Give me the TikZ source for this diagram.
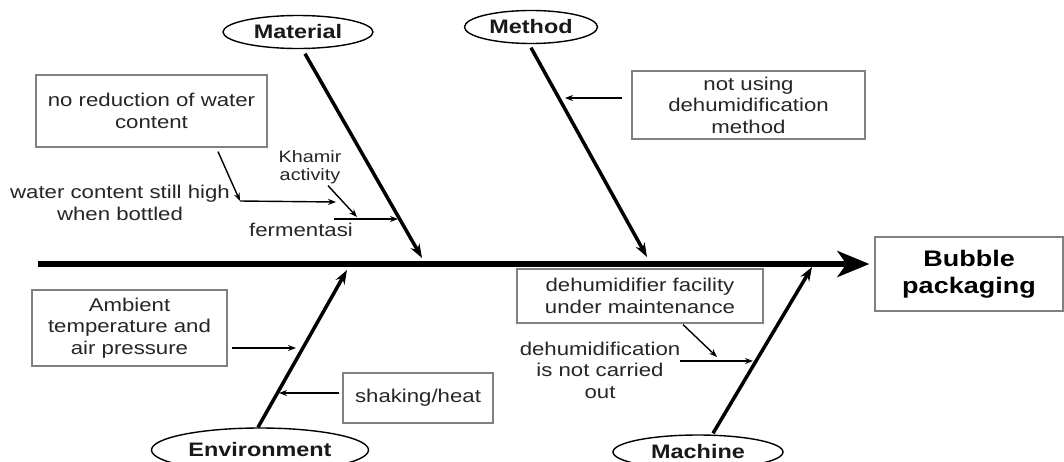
\documentclass[tikz,border=0pt]{standalone}
\usepackage{fontspec}
\setmainfont{Liberation Sans}[FakeStretch=1.2]
\usetikzlibrary{shapes.geometric,arrows.meta}
\newcommand\fReg{\fontsize{18.5}{21.5}\selectfont}
\newcommand\fSm{\fontsize{16.5}{17.5}\selectfont}
\newcommand\fLbl{\fontsize{19.5}{22}\selectfont\bfseries}
\newcommand\fBig{\fontsize{22.5}{27}\selectfont\bfseries}
\begin{document}
\begin{tikzpicture}[x=1pt,y=-1pt,
  cbox/.style={draw=black!50, line width=1.2pt, align=center, inner sep=0pt, text=black!85, font=\fReg},
  catlbl/.style={ellipse, draw=black, line width=1.4pt, inner sep=0pt, text=black!90, font=\fLbl},
  plaintxt/.style={align=center, inner sep=0pt, text=black!85, font=\fReg},
  branch/.style={line width=3.5pt, -{Stealth[length=14pt,width=10pt]}},
  thinarr/.style={line width=1.4pt, -{Stealth[length=8pt,width=6pt]}},
  spine/.style={line width=5.5pt, -{Stealth[length=32pt,width=26pt,inset=9pt]}}]
\useasboundingbox (0,0) rectangle (1064,461);
\fill[white] (0,0) rectangle (1064,461);

% category labels
\node[catlbl, minimum width=150pt, minimum height=33pt] (mat) at (298,32) {Material};
\node[catlbl, minimum width=133pt, minimum height=33pt] (meth) at (531,27) {Method};
\node[catlbl, minimum width=217pt, minimum height=44pt] (env) at (260,450) {Environment};
\node[catlbl, minimum width=170pt, minimum height=34pt] (mach) at (698,452) {Machine};

% effect
\node[cbox, minimum width=188pt, minimum height=74pt, font=\fBig, text=black] (bub) at (969,274) {Bubble\\packaging};

% cause boxes
\node[cbox, minimum width=231pt, minimum height=72pt] (nored) at (151.5,111) {no reduction of water\\content};
\node[cbox, minimum width=233pt, minimum height=68pt] (notus) at (748.5,105) {not using\\dehumidification\\method};
\node[cbox, minimum width=246pt, minimum height=54pt] (dfac) at (640,296) {dehumidifier facility\\under maintenance};
\node[cbox, minimum width=195pt, minimum height=76pt] (amb) at (129.5,328) {Ambient\\temperature and\\air pressure};
\node[cbox, minimum width=150pt, minimum height=50pt] (shake) at (418,398) {shaking/heat};

% plain texts
\node[plaintxt] (wch) at (120,203) {water content still high\\when bottled};
\node[plaintxt, font=\fSm] (kham) at (310,167) {Khamir\\activity};
\node[plaintxt] (ferm) at (301,230) {fermentasi};
\node[plaintxt] (dnc) at (600,370) {dehumidification\\is not carried\\out};

% coordinates
\coordinate (spL) at (38,264);
\coordinate (matT) at (422,258);
\coordinate (methT) at (647,257);
\coordinate (envT) at (347,270);
\coordinate (machT) at (812,267);
\coordinate (c1) at (240,201);
\coordinate (c2) at (336,202);
\coordinate (c3) at (357,217);
\coordinate (c4) at (334,219);
\coordinate (matF) at (398,219);
\coordinate (methA) at (565,98);
\coordinate (c5) at (717,357);
\coordinate (c6) at (680,361);
\coordinate (machA) at (753,361);
\coordinate (envA) at (296,348);
\coordinate (envB) at (279,393);

% spine
\draw[spine, shorten >=5pt] (spL) -- (spL -| bub.west);

% branches
\draw[branch] ([xshift=7pt,yshift=-4.5pt]mat.south) -- (matT);
\draw[branch] ([yshift=-3.5pt]meth.south) -- (methT);
\draw[branch] ([xshift=-2pt]env.north) -- (envT);
\draw[branch] ([xshift=15pt,yshift=1pt]mach.north) -- (machT);

% sub-cause arrows
\draw[thinarr] ([xshift=66.5pt,yshift=-4pt]nored.south) -- (c1);
\draw[thinarr] (c1) -- (c2);
\draw[thinarr] ([xshift=18pt,yshift=-2pt]kham.south) -- (c3);
\draw[thinarr] (c4) -- (matF);
\draw[thinarr] ([xshift=-9pt,yshift=7pt]notus.west) -- (methA);
\draw[thinarr] ([xshift=43pt,yshift=-1pt]dfac.south) -- (c5);
\draw[thinarr] (c6) -- (machA);
\draw[thinarr] ([xshift=4pt,yshift=-20pt]amb.east) -- (envA);
\draw[thinarr] ([xshift=-3pt,yshift=5pt]shake.west) -- (envB);
\end{tikzpicture}
\end{document}
